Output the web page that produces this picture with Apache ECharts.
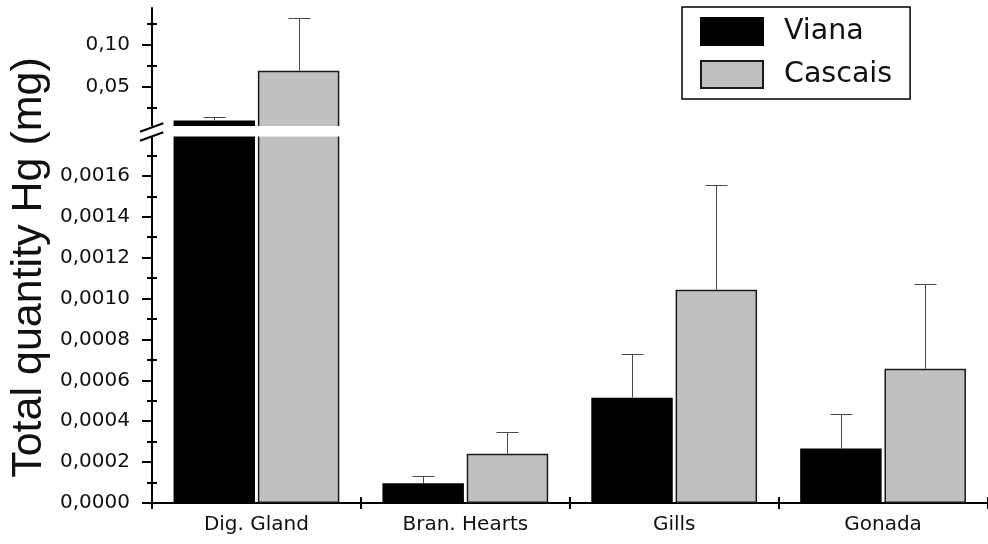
<!DOCTYPE html>
<html>
<head>
<meta charset="utf-8">
<script src="https://cdn.jsdelivr.net/npm/echarts@6/dist/echarts.min.js"></script>
<style>
html,body{margin:0;padding:0;background:#fff;}
#chart{width:988px;height:544px;}
</style>
</head>
<body>
<div id="chart"></div>
<script>
// ---- data ----
const categories = ['Dig. Gland', 'Bran. Hearts', 'Gills', 'Gonada'];
const vianaMean   = [0.0101, 0.000096, 0.000515, 0.000266];
const vianaErr    = [0.0038, 0.000035, 0.000212, 0.000168];
const cascaisMean = [0.0694, 0.000241, 0.001043, 0.000657];
const cascaisErr  = [0.0630, 0.000106, 0.000514, 0.000415];
const lowerTicks  = [0, 0.0002, 0.0004, 0.0006, 0.0008, 0.0010, 0.0012, 0.0014, 0.0016];
const lowerMinor  = [0.0001, 0.0003, 0.0005, 0.0007, 0.0009, 0.0011, 0.0013, 0.0015, 0.0017];
const upperTicks  = [0.05, 0.10];
const upperMinor  = [0.025, 0.075, 0.125];
const lowerMax = 0.0018;
const upperMax = 0.144;

// ---- layout / style ----
const BAR_W = 0.39, BAR_GAP = 0.035;
const tickFont = 'DejaVu Sans';
const gridL = {left: 152, right: 0.5, top: 135, bottom: 41, outerBoundsMode: 'none'};
const gridU = {left: 152, right: 0.5, top: 8, bottom: 415, outerBoundsMode: 'none'};

function fmt4(v){ return v.toFixed(4).replace('.', ','); }
function fmt2(v){ return v.toFixed(2).replace('.', ','); }

function mainY(grid, max, ticks, f){
  return {
    type: 'value', gridIndex: grid, min: 0, max: max, position: 'left',
    axisLine: {show: true, lineStyle: {color: '#000', width: 2}},
    axisTick: {show: true, customValues: ticks, length: 10, lineStyle: {color: '#000', width: 2}},
    axisLabel: {show: true, customValues: ticks, formatter: f, margin: 22,
      fontFamily: tickFont, fontSize: 20, color: '#111'},
    splitLine: {show: false}, minorTick: {show: false}
  };
}
function minorY(grid, max, ticks){
  return {
    type: 'value', gridIndex: grid, min: 0, max: max, position: 'left', offset: -5,
    axisLine: {show: false},
    axisTick: {show: true, customValues: ticks, length: 10, lineStyle: {color: '#000', width: 2}},
    axisLabel: {show: false}, splitLine: {show: false}
  };
}

function splitUpper(arr){ return arr.map(v => v > lowerMax ? v : '-'); }
function errData(means, errs, upper){
  const out = [];
  means.forEach((m, i) => {
    if ((m > lowerMax) === upper) out.push([i, m, errs[i]]);
  });
  return out;
}
function errSeries(name, side, means, errs, upper){
  return {
    type: 'custom', name: name + ' err', xAxisIndex: upper ? 2 : 0, yAxisIndex: upper ? 2 : 0,
    z: 5, silent: true,
    data: errData(means, errs, upper),
    encode: {x: 0, y: 1},
    renderItem: function(params, api){
      const i = api.value(0), m = api.value(1), e = api.value(2);
      const bw = api.size([1, 0])[0];
      const off = side * bw * BAR_W * (1 + BAR_GAP) / 2;
      const p0 = api.coord([i, m]);
      const p1 = api.coord([i, m + e]);
      const x = Math.round(p0[0] + off) + 0.5;
      const yt = Math.round(p1[1]) + 0.5;
      const st = {stroke: '#4a4a4a', lineWidth: 1};
      return {type: 'group', children: [
        {type: 'line', shape: {x1: x, y1: p0[1], x2: x, y2: yt}, style: st},
        {type: 'line', shape: {x1: x - 11, y1: yt, x2: x + 11, y2: yt}, style: st}
      ]};
    }
  };
}

const vianaStyle = {color: '#000', borderColor: '#000', borderWidth: 1.5};
const cascaisStyle = {color: '#c0c0c0', borderColor: '#1a1a1a', borderWidth: 1.5};

const chart = echarts.init(document.getElementById('chart'), null, {renderer: 'canvas'});
chart.setOption({
  backgroundColor: '#fff',
  animation: false,
  grid: [gridL, gridU],
  legend: {
    data: ['Viana', 'Cascais'], orient: 'vertical', left: 682, top: 7,
    icon: 'rect',
    itemWidth: 62, itemHeight: 27, itemGap: 14,
    padding: [10, 18, 10, 18],
    borderColor: '#000', borderWidth: 1.5, backgroundColor: '#fff', borderRadius: 0,
    textStyle: {fontFamily: tickFont, fontSize: 28.5, color: '#111', padding: [0, 0, 0, 16], lineHeight: 27},
    selectedMode: false
  },
  xAxis: [
    {type: 'category', gridIndex: 0, data: categories, position: 'bottom',
     axisLine: {show: true, onZero: false, lineStyle: {color: '#000', width: 2}},
     axisTick: {show: false},
     axisLabel: {show: true, margin: 12, fontFamily: tickFont, fontSize: 20, color: '#111'},
     splitLine: {show: false}},
    {type: 'category', gridIndex: 0, data: categories, position: 'bottom', offset: -6,
     axisLine: {show: false},
     axisTick: {show: true, length: 12, lineStyle: {color: '#000', width: 2}},
     axisLabel: {show: false}, splitLine: {show: false}},
    {type: 'category', gridIndex: 1, data: categories, show: false}
  ],
  yAxis: [
    mainY(0, lowerMax, lowerTicks, fmt4),
    minorY(0, lowerMax, lowerMinor),
    mainY(1, upperMax, upperTicks, fmt2),
    minorY(1, upperMax, upperMinor)
  ],
  series: [
    {type: 'bar', name: 'Viana', xAxisIndex: 0, yAxisIndex: 0, data: vianaMean,
     barWidth: (BAR_W * 100) + '%', barGap: (BAR_GAP * 100) + '%', itemStyle: vianaStyle},
    {type: 'bar', name: 'Cascais', xAxisIndex: 0, yAxisIndex: 0, data: cascaisMean,
     barWidth: (BAR_W * 100) + '%', barGap: (BAR_GAP * 100) + '%', itemStyle: cascaisStyle},
    {type: 'bar', name: 'Viana', xAxisIndex: 2, yAxisIndex: 2, data: splitUpper(vianaMean),
     barWidth: (BAR_W * 100) + '%', barGap: (BAR_GAP * 100) + '%', itemStyle: vianaStyle},
    {type: 'bar', name: 'Cascais', xAxisIndex: 2, yAxisIndex: 2, data: splitUpper(cascaisMean),
     barWidth: (BAR_W * 100) + '%', barGap: (BAR_GAP * 100) + '%', itemStyle: cascaisStyle},
    errSeries('Viana', -1, vianaMean, vianaErr, false),
    errSeries('Cascais', 1, cascaisMean, cascaisErr, false),
    errSeries('Viana', -1, vianaMean, vianaErr, true),
    errSeries('Cascais', 1, cascaisMean, cascaisErr, true)
  ],
  graphic: [
    {type: 'rect', z: 100, shape: {x: 140, y: 126, width: 206, height: 10.5},
     style: {fill: '#fff'}, silent: true},
    {type: 'line', z: 101, shape: {x1: 140, y1: 131.7, x2: 163.3, y2: 123.3},
     style: {stroke: '#000', lineWidth: 2}, silent: true},
    {type: 'line', z: 101, shape: {x1: 140, y1: 140.7, x2: 163.3, y2: 132.3},
     style: {stroke: '#000', lineWidth: 2}, silent: true},
    {type: 'text', z: 101, x: 29, y: 267.5, rotation: Math.PI / 2,
     style: {text: 'Total quantity Hg (mg)', fontFamily: 'Liberation Sans', fontSize: 43,
       fill: '#111', align: 'center', verticalAlign: 'middle'}, silent: true}
  ]
});
</script>
</body>
</html>
